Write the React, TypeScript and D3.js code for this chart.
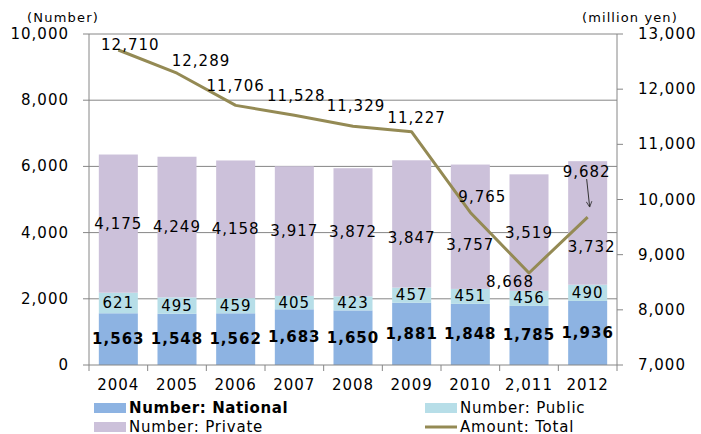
import React from "react";
import * as d3 from "d3";

const years = ["2004", "2005", "2006", "2007", "2008", "2009", "2010", "2011", "2012"];
const yearLabels = ["2004", "2005", "2006", "2007", "2008", "2009", "2010", "2,011", "2012"];
const national = [1563, 1548, 1562, 1683, 1650, 1881, 1848, 1785, 1936];
const publicN = [621, 495, 459, 405, 423, 457, 451, 456, 490];
const privateN = [4175, 4249, 4158, 3917, 3872, 3847, 3757, 3519, 3732];
const amount = [12710, 12289, 11706, 11528, 11329, 11227, 9765, 8668, 9682];
const leftTicks = [0, 2000, 4000, 6000, 8000, 10000];
const rightTicks = [7000, 8000, 9000, 10000, 11000, 12000, 13000];

// label offsets (px) relative to their anchor
const amountLabelOffset: [number, number][] = [
  [12, -5], [24, -12], [0, -19], [2, -19], [3, -20], [5, -14], [12, -15], [-19, 9], [-1, -45],
];
const privateLabelOffset: [number, number][] = [
  [0, 0], [0, 0], [0, 0], [0, 0], [0, 0], [0, 14], [0, 18], [0, 0], [4, 24],
];

const C_NAT = "#8DB3E2";
const C_PUB = "#B7DEE8";
const C_PRI = "#CCC1DA";
const C_LINE = "#948A54";
const C_AXIS = "#868686";
const FONT = "'DejaVu Sans', Verdana, sans-serif";

export default function App() {
  const W = 701, H = 434;
  const left = 89, right = 617, top = 34, bottom = 365;
  const x = d3.scaleBand<string>().domain(years).range([left, right]).paddingInner(0.335).paddingOuter(0.1675);
  const y = d3.scaleLinear().domain([0, 10000]).range([bottom, top]);
  const y2 = d3.scaleLinear().domain([7000, 13000]).range([bottom, top]);
  const step = x.step();
  const cx = (i: number) => (x(years[i]) as number) + x.bandwidth() / 2;
  const line = d3.line<number>().x((_, i) => cx(i)).y((d) => y2(d));

  const txt = { fontFamily: FONT, fontSize: 15, letterSpacing: 1, fill: "#000" } as const;

  const arrowIdx = 8;
  const ax0 = cx(arrowIdx) + amountLabelOffset[arrowIdx][0];
  const ay0 = y2(amount[arrowIdx]) + amountLabelOffset[arrowIdx][1] + 7;
  const ax1 = cx(arrowIdx) + 2;
  const ay1 = y2(amount[arrowIdx]) - 10;

  return (
    <svg width={W} height={H} style={{ position: "absolute", left: 0, top: 0, background: "#fff" }}>
      <defs>
        <marker id="arr" viewBox="0 0 10 10" refX="9" refY="5" markerWidth="7" markerHeight="7" orient="auto">
          <path d="M1,1 L9,5 L1,9" fill="none" stroke="#333" strokeWidth="1.2" />
        </marker>
      </defs>
      {/* gridlines */}
      {leftTicks.filter((t) => t > 0).map((t) => (
        <line key={t} x1={left} x2={right} y1={y(t)} y2={y(t)} stroke={C_AXIS} strokeWidth={1} />
      ))}
      {/* bars */}
      {years.map((yr, i) => {
        const bx = x(yr) as number;
        const bw = x.bandwidth();
        const b0 = national[i];
        const b1 = b0 + publicN[i];
        const b2 = b1 + privateN[i];
        return (
          <g key={yr}>
            <rect x={bx} y={y(b0)} width={bw} height={y(0) - y(b0)} fill={C_NAT} />
            <rect x={bx} y={y(b1)} width={bw} height={y(b0) - y(b1)} fill={C_PUB} />
            <rect x={bx} y={y(b2)} width={bw} height={y(b1) - y(b2)} fill={C_PRI} />
          </g>
        );
      })}
      {/* axes */}
      <line x1={left} x2={left} y1={top} y2={bottom} stroke={C_AXIS} />
      <line x1={right} x2={right} y1={top} y2={bottom} stroke={C_AXIS} />
      <line x1={left} x2={right} y1={bottom} y2={bottom} stroke={C_AXIS} />
      {leftTicks.map((t) => (
        <g key={"l" + t}>
          <line x1={left - 6} x2={left} y1={y(t)} y2={y(t)} stroke={C_AXIS} />
          <text x={69} y={y(t)} textAnchor="end" dominantBaseline="central" {...txt}>
            {d3.format(",")(t)}
          </text>
        </g>
      ))}
      {rightTicks.map((t) => (
        <g key={"r" + t}>
          <line x1={right} x2={right + 6} y1={y2(t)} y2={y2(t)} stroke={C_AXIS} />
          <text x={638} y={y2(t)} textAnchor="start" dominantBaseline="central" {...txt}>
            {d3.format(",")(t)}
          </text>
        </g>
      ))}
      {d3.range(years.length + 1).map((k) => (
        <line key={"xt" + k} x1={left + k * step} x2={left + k * step} y1={bottom} y2={bottom + 6} stroke={C_AXIS} />
      ))}
      {yearLabels.map((lab, i) => (
        <text key={"yl" + i} x={cx(i)} y={385} textAnchor="middle" dominantBaseline="central" {...txt}>
          {lab}
        </text>
      ))}
      {/* axis titles */}
      <text x={27} y={17} dominantBaseline="central" fontFamily={FONT} fontSize={13} letterSpacing={1.2}>
        (Number)
      </text>
      <text x={582} y={17} dominantBaseline="central" fontFamily={FONT} fontSize={13} letterSpacing={1.1}>
        (million yen)
      </text>
      {/* bar labels */}
      {years.map((yr, i) => {
        const b0 = national[i];
        const b1 = b0 + publicN[i];
        const b2 = b1 + privateN[i];
        return (
          <g key={"lab" + yr}>
            <text x={cx(i)} y={y(b0 / 2)} textAnchor="middle" dominantBaseline="central" {...txt} fontWeight="bold">
              {d3.format(",")(national[i])}
            </text>
            <text x={cx(i)} y={y((b0 + b1) / 2)} textAnchor="middle" dominantBaseline="central" {...txt}>
              {d3.format(",")(publicN[i])}
            </text>
            <text
              x={cx(i) + privateLabelOffset[i][0]}
              y={y((b1 + b2) / 2) + privateLabelOffset[i][1]}
              textAnchor="middle"
              dominantBaseline="central"
              {...txt}
            >
              {d3.format(",")(privateN[i])}
            </text>
          </g>
        );
      })}
      {/* line */}
      <path d={line(amount) || ""} fill="none" stroke={C_LINE} strokeWidth={3} strokeLinejoin="round" />
      {amount.map((v, i) => (
        <text
          key={"am" + i}
          x={cx(i) + amountLabelOffset[i][0]}
          y={y2(v) + amountLabelOffset[i][1]}
          textAnchor="middle"
          dominantBaseline="central"
          {...txt}
        >
          {d3.format(",")(v)}
        </text>
      ))}
      <line x1={ax0} y1={ay0} x2={ax1} y2={ay1} stroke="#333" strokeWidth={1} markerEnd="url(#arr)" />
      {/* legend */}
      <rect x={94} y={403} width={32} height={10} fill={C_NAT} />
      <text x={129} y={408} dominantBaseline="central" {...txt} letterSpacing={0.6} fontWeight="bold">
        Number: National
      </text>
      <rect x={425} y={403} width={32} height={10} fill={C_PUB} />
      <text x={460} y={408} dominantBaseline="central" {...txt} letterSpacing={0.8}>
        Number: Public
      </text>
      <rect x={94} y={422} width={32} height={10} fill={C_PRI} />
      <text x={129} y={426.5} dominantBaseline="central" {...txt} letterSpacing={0.8}>
        Number: Private
      </text>
      <line x1={425} x2={457} y1={427} y2={427} stroke={C_LINE} strokeWidth={3} />
      <text x={460} y={426.5} dominantBaseline="central" {...txt} letterSpacing={0.8}>
        Amount: Total
      </text>
    </svg>
  );
}
